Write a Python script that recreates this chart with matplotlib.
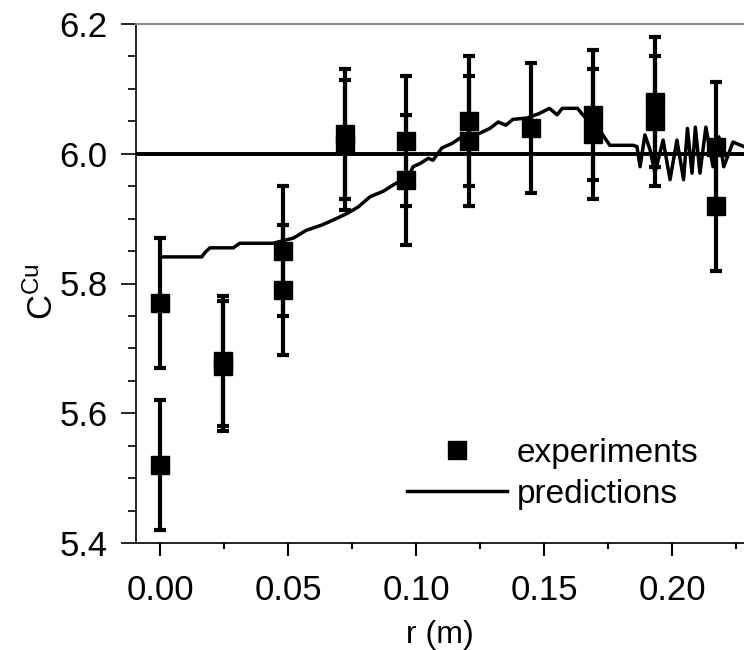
import matplotlib
matplotlib.use("Agg")
import matplotlib.pyplot as plt
from matplotlib.lines import Line2D
from matplotlib.ticker import MultipleLocator, FormatStrFormatter

plt.rcParams['font.family'] = ['Liberation Sans', 'DejaVu Sans']

# experiments (radius, C_Cu, error)
exp_r = [0.0, 0.0, 0.0245, 0.0245, 0.048, 0.048, 0.072, 0.072, 0.096, 0.096,
         0.1206, 0.1206, 0.1448, 0.169, 0.169, 0.1932, 0.1932, 0.217, 0.217]
exp_c = [5.77, 5.52, 5.68, 5.673, 5.85, 5.79, 6.03, 6.013, 6.02, 5.96,
         6.05, 6.02, 6.04, 6.06, 6.03, 6.08, 6.05, 5.92, 6.01]
exp_err = [0.1] * len(exp_r)

# predictions
pred_r = [0.001, 0.0162, 0.0175, 0.0194, 0.0285, 0.031, 0.044, 0.052, 0.057,
          0.063, 0.0676, 0.073, 0.0773, 0.082, 0.087, 0.091, 0.097, 0.0987,
          0.1015, 0.1047, 0.1065, 0.110, 0.114, 0.117, 0.125, 0.1287, 0.132,
          0.135, 0.1377, 0.1432, 0.148, 0.152, 0.155, 0.157, 0.163, 0.165,
          0.172, 0.1756, 0.1847, 0.1862, 0.1874, 0.1893, 0.1913, 0.1932,
          0.1964, 0.1991, 0.2018, 0.2044, 0.2059, 0.2077, 0.2090, 0.2108,
          0.2131, 0.2159, 0.2182, 0.2201, 0.2237, 0.228]
pred_c = [5.841, 5.841, 5.848, 5.855, 5.855, 5.862, 5.862, 5.870, 5.882,
          5.890, 5.898, 5.908, 5.918, 5.934, 5.942, 5.952, 5.965, 5.980,
          5.985, 5.993, 5.990, 6.009, 6.016, 6.024, 6.032, 6.039, 6.049,
          6.044, 6.053, 6.055, 6.062, 6.070, 6.060, 6.070, 6.070, 6.060,
          6.034, 6.013, 6.013, 6.011, 5.980, 6.029, 6.006, 5.970,
          6.021, 5.960, 6.021, 5.960, 6.039, 5.970, 6.041, 5.970,
          6.041, 5.980, 6.026, 5.980, 6.018, 6.011]

fig = plt.figure(figsize=(7.44, 6.5), dpi=100)
ax = fig.add_axes([136/744, 1 - 543/650, 1 - 136/744, (543 - 24)/650])

ax.axhline(6.0, color='k', lw=2.8, zorder=2)
ax.plot(pred_r, pred_c, color='k', lw=2.5, zorder=3)
ax.errorbar(exp_r, exp_c, yerr=exp_err, fmt='s', color='k', ms=13,
            elinewidth=3, capsize=4.5, capthick=3, zorder=4)

ax.set_xlim(-0.0095, 0.228)
ax.set_ylim(5.4, 6.2)
ax.xaxis.set_major_locator(MultipleLocator(0.05))
ax.xaxis.set_minor_locator(MultipleLocator(0.025))
ax.yaxis.set_major_locator(MultipleLocator(0.2))
ax.yaxis.set_minor_locator(MultipleLocator(0.05))
ax.xaxis.set_major_formatter(FormatStrFormatter('%.2f'))
ax.yaxis.set_major_formatter(FormatStrFormatter('%.1f'))

ax.tick_params(axis='x', which='major', length=9, width=1.5, labelsize=25, pad=13)
ax.tick_params(axis='x', which='minor', length=4, width=1.5)
ax.tick_params(axis='y', which='major', length=10.5, width=1.2, labelsize=25, pad=10)
ax.tick_params(axis='y', which='minor', length=6, width=1.2)

ax.spines['right'].set_visible(False)
ax.spines['top'].set_color('#888888')
ax.spines['top'].set_linewidth(1.5)
ax.spines['left'].set_linewidth(1.2)
ax.spines['bottom'].set_linewidth(1.2)

ax.set_xlabel('r (m)', fontsize=23, labelpad=10)
ax.set_ylabel(r'$\mathregular{C^{Cu}}$', fontsize=25)
ax.yaxis.set_label_coords(-0.126, 0.485)

handles = [Line2D([], [], marker='s', color='k', ls='none', ms=13),
           Line2D([], [], color='k', lw=2.5)]
ax.legend(handles, ['experiments', 'predictions'], frameon=False,
          fontsize=24, loc='upper left', bbox_to_anchor=(407/744, 1 - 438/650),
          bbox_transform=fig.transFigure, borderaxespad=0, borderpad=0,
          handlelength=3.0, handletextpad=0.3, labelspacing=0.3)

fig.savefig('out.png', dpi=100)
